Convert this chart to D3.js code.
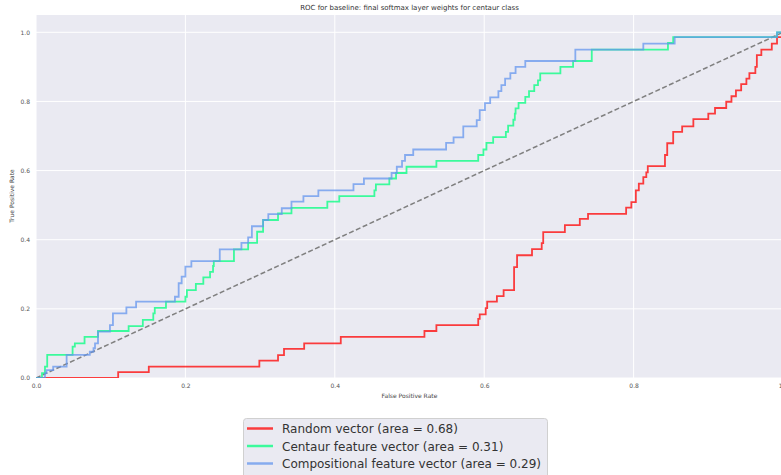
<!DOCTYPE html>
<html lang="en">
<head>
<meta charset="UTF-8">
<title>ROC for baseline</title>
<style>
body { margin: 0; background: #fff; }
svg { display: block; font-family: "DejaVu Sans", sans-serif; }
.tick text { fill: #555; font-size: 6px; }
.grid line { stroke: #fff; stroke-width: 1; }
</style>
</head>
<body>
<svg id="chart"></svg>
<script src="https://d3js.org/d3.v7.min.js"></script>
<script>
var title = "ROC for baseline: final softmax layer weights for centaur class";
var xLabel = "False Positive Rate";
var yLabel = "True Positive Rate";
var tickValues = [0, 0.2, 0.4, 0.6, 0.8, 1.0];

var seriesNames = ["Random vector (area = 0.68)",
  "Centaur feature vector (area = 0.31)",
  "Compositional feature vector (area = 0.29)"];
var seriesColors = ["#ff0000", "#00ff7f", "#6495ed"];

// points: tpr value reached at each fpr step
var redFpr = [0, 0.110, 0.151, 0.299, 0.324, 0.332, 0.359, 0.408, 0.520, 0.536, 0.592, 0.594, 0.602, 0.604,
  0.617, 0.626, 0.640, 0.644, 0.664, 0.677, 0.679, 0.708, 0.728, 0.739, 0.790, 0.797, 0.803, 0.807,
  0.813, 0.817, 0.819, 0.842, 0.845, 0.853, 0.865, 0.880, 0.900, 0.909, 0.924, 0.931, 0.937, 0.944,
  0.951, 0.955, 0.963, 0.965, 0.971, 0.985, 0.992, 1.0];
var redTpr = [0, 0.017, 0.033, 0.050, 0.066, 0.084, 0.100, 0.119, 0.136, 0.153, 0.171, 0.184, 0.202, 0.221,
  0.237, 0.254, 0.321, 0.355, 0.373, 0.390, 0.422, 0.442, 0.460, 0.475, 0.493, 0.509, 0.543, 0.562,
  0.581, 0.595, 0.613, 0.645, 0.679, 0.712, 0.728, 0.749, 0.765, 0.781, 0.799, 0.815, 0.832, 0.850,
  0.866, 0.882, 0.900, 0.934, 0.950, 0.967, 0.986, 1.0];

var greenFpr = [0, 0.008, 0.012, 0.015, 0.049, 0.052, 0.065, 0.083, 0.124, 0.143, 0.157, 0.159, 0.174,
  0.200, 0.202, 0.214, 0.224, 0.233, 0.237, 0.238, 0.265, 0.284, 0.296, 0.304, 0.324, 0.342, 0.390,
  0.406, 0.453, 0.455, 0.473, 0.482, 0.496, 0.536, 0.592, 0.599, 0.603, 0.612, 0.629, 0.632, 0.639,
  0.641, 0.642, 0.646, 0.655, 0.660, 0.667, 0.672, 0.675, 0.702, 0.719, 0.744, 0.846, 0.853, 0.992, 1.0];
var greenTpr = [0, 0.014, 0.033, 0.067, 0.091, 0.100, 0.119, 0.136, 0.150, 0.168, 0.187, 0.203, 0.221,
  0.235, 0.254, 0.272, 0.291, 0.307, 0.324, 0.338, 0.372, 0.391, 0.423, 0.457, 0.476, 0.492, 0.510,
  0.526, 0.543, 0.560, 0.577, 0.593, 0.611, 0.628, 0.645, 0.661, 0.680, 0.697, 0.712, 0.730, 0.747,
  0.765, 0.780, 0.796, 0.813, 0.830, 0.847, 0.861, 0.881, 0.900, 0.917, 0.950, 0.969, 0.986, 1.0, 1.0];

var blueFpr = [0, 0.012, 0.014, 0.023, 0.041, 0.072, 0.077, 0.079, 0.083, 0.099, 0.103, 0.121, 0.134,
  0.186, 0.191, 0.195, 0.200, 0.208, 0.246, 0.275, 0.284, 0.289, 0.304, 0.311, 0.329, 0.342, 0.358,
  0.378, 0.425, 0.439, 0.476, 0.483, 0.490, 0.494, 0.505, 0.549, 0.559, 0.572, 0.590, 0.594, 0.601,
  0.608, 0.619, 0.623, 0.628, 0.635, 0.642, 0.655, 0.722, 0.813, 0.855, 0.992, 1.0];
var blueTpr = [0, 0.014, 0.023, 0.033, 0.067, 0.076, 0.086, 0.100, 0.134, 0.153, 0.187, 0.204, 0.221,
  0.235, 0.274, 0.293, 0.322, 0.338, 0.372, 0.391, 0.407, 0.439, 0.457, 0.474, 0.491, 0.510, 0.526,
  0.543, 0.561, 0.577, 0.593, 0.611, 0.628, 0.645, 0.661, 0.680, 0.696, 0.728, 0.746, 0.775, 0.795,
  0.812, 0.830, 0.847, 0.866, 0.882, 0.900, 0.917, 0.950, 0.967, 0.986, 1.0, 1.0];

var chanceLine = [0, 1];

var totalWidth = 781, totalHeight = 475;
var plot = { left: 36, right: 783, top: 15, bottom: 378 };

var svg = d3.select("#chart")
  .attr("width", totalWidth)
  .attr("height", totalHeight);

var x = d3.scaleLinear().domain([0, 1]).range([plot.left, plot.right]);
var y = d3.scaleLinear().domain([0, 1.05]).range([plot.bottom, plot.top]);

svg.append("defs").append("clipPath").attr("id", "clip")
  .append("rect")
  .attr("x", plot.left).attr("y", plot.top)
  .attr("width", plot.right - plot.left).attr("height", plot.bottom - plot.top);

svg.append("rect")
  .attr("x", plot.left).attr("y", plot.top)
  .attr("width", plot.right - plot.left).attr("height", plot.bottom - plot.top)
  .attr("fill", "#eaeaf2");

// grid
svg.append("g").attr("class", "grid")
  .selectAll("line.v").data(tickValues).enter().append("line")
  .attr("x1", function(d) { return x(d); }).attr("x2", function(d) { return x(d); })
  .attr("y1", plot.top).attr("y2", plot.bottom);
svg.append("g").attr("class", "grid")
  .selectAll("line.h").data(tickValues).enter().append("line")
  .attr("y1", function(d) { return y(d); }).attr("y2", function(d) { return y(d); })
  .attr("x1", plot.left).attr("x2", plot.right);

// axes
var xAxis = d3.axisBottom(x).tickValues(tickValues).tickFormat(d3.format(".1f")).tickSize(0).tickPadding(6);
var yAxis = d3.axisLeft(y).tickValues(tickValues).tickFormat(d3.format(".1f")).tickSize(0).tickPadding(6);

svg.append("g").attr("transform", "translate(0," + plot.bottom + ")").call(xAxis)
  .call(function(g) { g.select(".domain").remove(); });
svg.append("g").attr("transform", "translate(" + plot.left + ",0)").call(yAxis)
  .call(function(g) { g.select(".domain").remove(); });

svg.selectAll(".tick text").attr("font-family", "DejaVu Sans, sans-serif").attr("fill", "#555");

// lines
var g = svg.append("g").attr("clip-path", "url(#clip)");

g.append("line")
  .attr("x1", x(chanceLine[0])).attr("y1", y(chanceLine[0]))
  .attr("x2", x(chanceLine[1])).attr("y2", y(chanceLine[1]))
  .attr("stroke", "#808080")
  .attr("stroke-width", 1.5)
  .attr("stroke-dasharray", "5,2.5");

var stepLine = d3.line()
  .x(function(d) { return x(d[0]); })
  .y(function(d) { return y(d[1]); })
  .curve(d3.curveStepAfter);

var series = [[redFpr, redTpr], [greenFpr, greenTpr], [blueFpr, blueTpr]];
series.forEach(function(s, i) {
  var pts = s[0].map(function(f, j) { return [f, s[1][j]]; });
  g.append("path")
    .attr("d", stepLine(pts))
    .attr("fill", "none")
    .attr("stroke", seriesColors[i])
    .attr("stroke-opacity", 0.75)
    .attr("stroke-width", 1.8);
});

// texts
svg.append("text")
  .attr("x", (plot.left + plot.right) / 2).attr("y", 10)
  .attr("text-anchor", "middle")
  .attr("font-size", "7px").attr("fill", "#333")
  .text(title);

svg.append("text")
  .attr("x", (plot.left + plot.right) / 2).attr("y", 398)
  .attr("text-anchor", "middle")
  .attr("font-size", "6px").attr("fill", "#444")
  .text(xLabel);

svg.append("text")
  .attr("transform", "translate(14," + 196 + ") rotate(-90)")
  .attr("text-anchor", "middle")
  .attr("font-size", "6px").attr("fill", "#444")
  .text(yLabel);

// legend
var legend = svg.append("g");
legend.append("rect")
  .attr("x", 243.5).attr("y", 418.5)
  .attr("width", 304).attr("height", 70)
  .attr("rx", 3)
  .attr("fill", "#eaeaf2").attr("stroke", "#d0d0d0");

seriesNames.forEach(function(name, i) {
  var yy = 428.5 + i * 17.5;
  legend.append("line")
    .attr("x1", 247).attr("x2", 273)
    .attr("y1", yy).attr("y2", yy)
    .attr("stroke", seriesColors[i])
    .attr("stroke-opacity", 0.75)
    .attr("stroke-width", 2.5);
  legend.append("text")
    .attr("x", 282).attr("y", yy + 4.5)
    .attr("font-size", "12px").attr("fill", "#333")
    .text(name);
});
</script>
</body>
</html>
